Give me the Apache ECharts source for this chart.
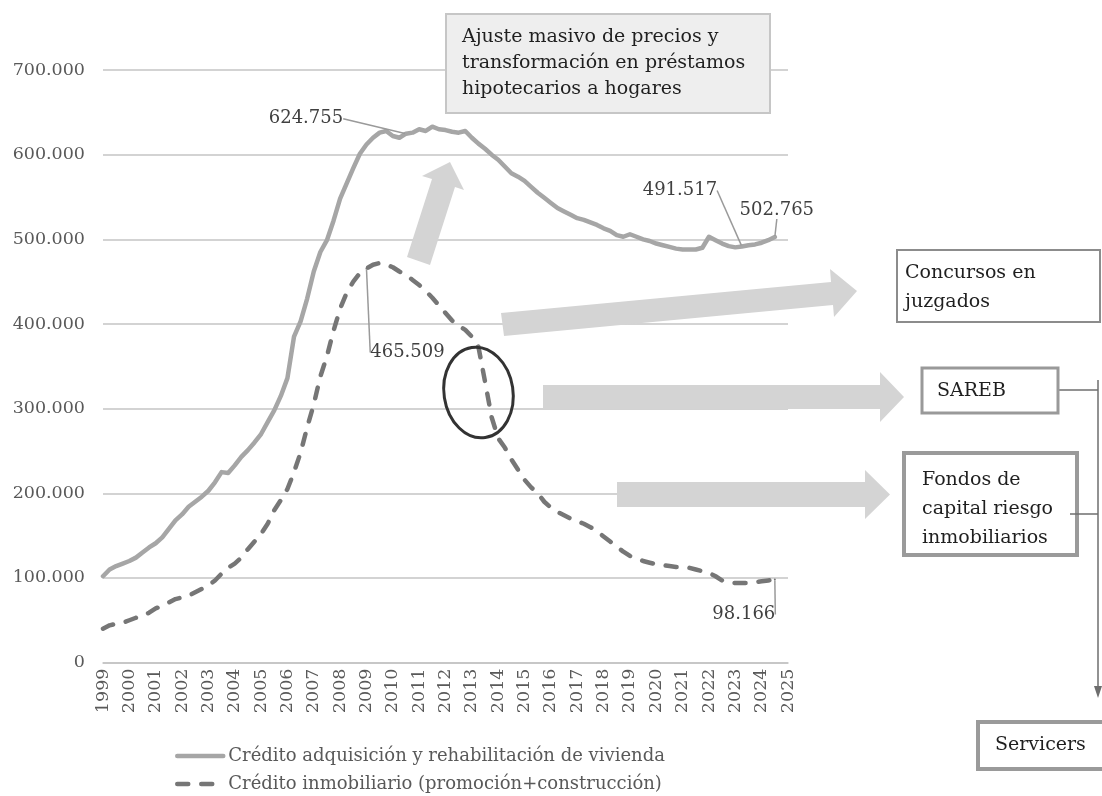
<!DOCTYPE html>
<html>
<head>
<meta charset="utf-8">
<script src="https://cdn.jsdelivr.net/npm/echarts@6/dist/echarts.min.js"></script>
<style>
  html, body { margin: 0; padding: 0; background: #fff; }
  #chart { width: 1102px; height: 796px; }
</style>
</head>
<body>
<div id="chart"></div>
<script>
// Year tick labels; data is quarterly, one category per quarter.
const years = ['1999','2000','2001','2002','2003','2004','2005','2006','2007','2008','2009',
  '2010','2011','2012','2013','2014','2015','2016','2017','2018','2019','2020','2021','2022',
  '2023','2024','2025'];

// Crédito adquisición y rehabilitación de vivienda (quarterly, 1999 T1 – 2024 T3)
const vivienda = [
  102000, 110000, 114000, 117000, 120000, 124000, 130000, 136000, 141000, 148000,
  158000, 168000, 175000, 184000, 190000, 196000, 203000, 213000, 225000, 224000,
  233000, 243000, 251000, 260000, 270000, 284000, 298000, 315000, 336000, 385000,
  403000, 430000, 462000, 485000, 499000, 522000, 548000, 566000, 584000, 601000,
  612000, 620000, 626000, 628000, 622000, 620000, 624755, 626000, 630000, 628000,
  633000, 630000, 629000, 627000, 626000, 628000, 620000, 613000, 607000, 600000,
  594000, 586000, 578000, 574000, 569000, 562000, 555000, 549000, 543000, 537000,
  533000, 529000, 525000, 523000, 520000, 517000, 513000, 510000, 505000, 503000,
  506000, 503000, 500000, 498000, 495000, 493000, 491000, 489000, 488000, 488000,
  488000, 490000, 503000, 499000, 495000, 492000, 490500, 491517, 493000, 494000,
  496000, 499000, 502765
];

// Crédito inmobiliario (promoción+construcción) (quarterly, 1999 T1 – 2024 T3)
const inmobiliario = [
  40000, 44000, 46000, 47000, 50000, 53000, 55000, 59000, 64000, 67000,
  71000, 75000, 77000, 79000, 83000, 87000, 91000, 97000, 105000, 112000,
  117000, 124000, 134000, 143000, 152000, 164000, 180000, 192000, 205000, 225000,
  248000, 278000, 305000, 338000, 362000, 392000, 418000, 437000, 450000, 460000,
  465509, 470000, 472000, 470000, 467000, 462000, 458000, 452000, 446000, 439000,
  431000, 422000, 413000, 404000, 398000, 393000, 385000, 373000, 332000, 290000,
  265000, 254000, 240000, 228000, 216000, 207000, 200000, 190000, 183000, 178000,
  174000, 170000, 167000, 164000, 160000, 155000, 149000, 143000, 137000, 131000,
  126000, 123000, 120000, 118000, 116000, 115000, 114000, 113000, 113000, 112000,
  110000, 108000, 106000, 102000, 97000, 95000, 94000, 94000, 94000, 95000,
  96000, 97000, 98166
];

const seriesNames = [
  'Crédito adquisición y rehabilitación de vivienda',
  'Crédito inmobiliario (promoción+construcción)'
];

// Points that carry a value label, with the label offset from its point
const viviendaLabels = {
  46: { position: 'top', dx: -100, dy: 0 },
  97: { position: 'top', dx: -62, dy: -41 },
  102: { position: 'top', dx: 2, dy: -12 }
};
const inmobiliarioLabels = {
  40: { position: 'top', dx: 41, dy: 99 },
  102: { position: 'bottom', dx: -31, dy: 20 }
};

const quarters = [];
years.forEach(function (y, k) {
  const n = k === years.length - 1 ? 1 : 4;
  for (let q = 1; q <= n; q++) quarters.push(y + '-T' + q);
});

const SERIF = '"DejaVu Serif", serif';

function fmt(v) {
  return String(Math.round(v)).replace(/\B(?=(\d{3})+(?!\d))/g, '.');
}

function withLabels(values, labels, color) {
  return values.map(function (v, i) {
    const l = labels[i];
    if (!l) return v;
    return {
      value: v,
      symbol: 'circle',
      symbolSize: 2,
      itemStyle: { color: color },
      label: { show: true, position: l.position }
    };
  });
}

function layoutFor(labels) {
  return function (params) {
    const l = labels[params.dataIndex];
    return l ? { dx: l.dx, dy: l.dy } : {};
  };
}

const labelText = {
  fontFamily: SERIF,
  fontSize: 18,
  color: '#404040',
  formatter: function (p) { return fmt(p.value); }
};

const chart = echarts.init(document.getElementById('chart'), null, { renderer: 'canvas' });

const BOX_FONT = '19px ' + SERIF;

chart.setOption({
  animation: false,
  backgroundColor: '#ffffff',
  grid: { left: 103, right: 314, top: 70, bottom: 133.4, containLabel: false },
  xAxis: {
    type: 'category',
    data: quarters,
    boundaryGap: false,
    axisLine: { lineStyle: { color: '#c4c4c4', width: 1.5 } },
    axisTick: { show: false },
    axisLabel: {
      interval: 3,
      rotate: 90,
      margin: 6,
      fontFamily: SERIF,
      fontSize: 17.5,
      color: '#595959',
      formatter: function (v) { return v.slice(0, 4); }
    },
    splitLine: { show: false }
  },
  yAxis: {
    type: 'value',
    min: 0,
    max: 700000,
    interval: 100000,
    axisLine: { show: false },
    axisTick: { show: false },
    axisLabel: {
      margin: 18,
      fontFamily: SERIF,
      fontSize: 17.5,
      color: '#595959',
      formatter: function (v) { return v === 0 ? '0' : fmt(v); }
    },
    splitLine: { lineStyle: { color: '#c4c4c4', width: 1.5 } }
  },
  legend: {
    orient: 'vertical',
    left: 175,
    top: 747,
    itemWidth: 46,
    itemHeight: 14,
    itemGap: 10,
    padding: 0,
    lineStyle: { width: 4.5 },
    itemStyle: { opacity: 0 },
    textStyle: { fontFamily: SERIF, fontSize: 18, lineHeight: 18, color: '#595959' },
    data: seriesNames
  },
  series: [
    {
      name: seriesNames[0],
      type: 'line',
      data: withLabels(vivienda, viviendaLabels, '#a6a6a6'),
      symbol: 'none',
      showAllSymbol: true,
      lineStyle: { color: '#a6a6a6', width: 4.5, cap: 'round', join: 'round' },
      itemStyle: { color: '#a6a6a6' },
      label: labelText,
      labelLayout: layoutFor(viviendaLabels),
      labelLine: { show: true, lineStyle: { color: '#9a9a9a', width: 1.5 } },
      z: 3
    },
    {
      name: seriesNames[1],
      type: 'line',
      data: withLabels(inmobiliario, inmobiliarioLabels, '#767676'),
      symbol: 'none',
      showAllSymbol: true,
      lineStyle: { color: '#767676', width: 4.5, type: [11, 13], cap: 'round', join: 'round' },
      itemStyle: { color: '#767676' },
      label: labelText,
      labelLayout: layoutFor(inmobiliarioLabels),
      labelLine: { show: true, lineStyle: { color: '#9a9a9a', width: 1.5 } },
      z: 3
    }
  ],
  graphic: [
    // arrow up towards the mortgage peak
    { type: 'polygon', z: 5, shape: { points: [[407,257],[430,265],[455,187],[464,190],[450,162],[422,176],[432,179]] },
      style: { fill: '#d4d4d4' } },
    // arrow towards "Concursos en juzgados"
    { type: 'polygon', z: 5, shape: { points: [[501,313],[831,282],[830,269],[857,291],[834,317],[833,305],[504,336]] },
      style: { fill: '#d4d4d4' } },
    // arrow towards SAREB
    { type: 'polygon', z: 5, shape: { points: [[543,385],[880,385],[880,372],[904,397],[880,422],[880,409],[543,409]] },
      style: { fill: '#d4d4d4' } },
    // arrow towards the real-estate funds
    { type: 'polygon', z: 5, shape: { points: [[617,482],[865,482],[865,470],[890,494.5],[865,519],[865,507],[617,507]] },
      style: { fill: '#d4d4d4' } },
    // ring around the 2012-2013 drop
    { type: 'ellipse', z: 6, x: 478.5, y: 392.5, rotation: 0.15,
      shape: { cx: 0, cy: 0, rx: 34.5, ry: 45.5 },
      style: { fill: 'none', stroke: '#333333', lineWidth: 3 } },

    // heading box
    { type: 'rect', z: 7, shape: { x: 446, y: 14, width: 324, height: 99 },
      style: { fill: '#eeeeee', stroke: '#c6c6c6', lineWidth: 2 } },
    { type: 'text', z: 8, x: 462, y: 24,
      style: { text: 'Ajuste masivo de precios y\ntransformación en préstamos\nhipotecarios a hogares',
               font: BOX_FONT, fill: '#1f1f1f', lineHeight: 26, verticalAlign: 'top' } },

    // destination boxes
    { type: 'rect', z: 7, shape: { x: 897, y: 250, width: 203, height: 72 },
      style: { fill: '#ffffff', stroke: '#8c8c8c', lineWidth: 2 } },
    { type: 'text', z: 8, x: 905, y: 258.5,
      style: { text: 'Concursos en\njuzgados', font: BOX_FONT, fill: '#1f1f1f', lineHeight: 29, verticalAlign: 'top' } },

    { type: 'rect', z: 7, shape: { x: 922, y: 368, width: 136, height: 45 },
      style: { fill: '#ffffff', stroke: '#999999', lineWidth: 3 } },
    { type: 'text', z: 8, x: 937, y: 391,
      style: { text: 'SAREB', font: BOX_FONT, fill: '#1f1f1f', verticalAlign: 'middle' } },

    { type: 'rect', z: 7, shape: { x: 904, y: 453, width: 173, height: 102 },
      style: { fill: '#ffffff', stroke: '#9a9a9a', lineWidth: 4 } },
    { type: 'text', z: 8, x: 922, y: 465.5,
      style: { text: 'Fondos de\ncapital riesgo\ninmobiliarios', font: BOX_FONT, fill: '#1f1f1f', lineHeight: 29, verticalAlign: 'top' } },

    { type: 'rect', z: 7, shape: { x: 978, y: 722, width: 140, height: 47 },
      style: { fill: '#ffffff', stroke: '#9a9a9a', lineWidth: 4 } },
    { type: 'text', z: 8, x: 995, y: 745.5,
      style: { text: 'Servicers', font: BOX_FONT, fill: '#1f1f1f', verticalAlign: 'middle' } },

    // connectors leading down to "Servicers"
    { type: 'line', z: 6, shape: { x1: 1058, y1: 390, x2: 1098, y2: 390 },
      style: { stroke: '#6e6e6e', lineWidth: 1.5 } },
    { type: 'line', z: 9, shape: { x1: 1070, y1: 514, x2: 1098, y2: 514 },
      style: { stroke: '#6e6e6e', lineWidth: 1.5 } },
    { type: 'line', z: 6, shape: { x1: 1098, y1: 380, x2: 1098, y2: 690 },
      style: { stroke: '#6e6e6e', lineWidth: 1.5 } },
    { type: 'polygon', z: 6, shape: { points: [[1094,686],[1102,686],[1098,698]] },
      style: { fill: '#6e6e6e' } }
  ]
});
</script>
</body>
</html>
